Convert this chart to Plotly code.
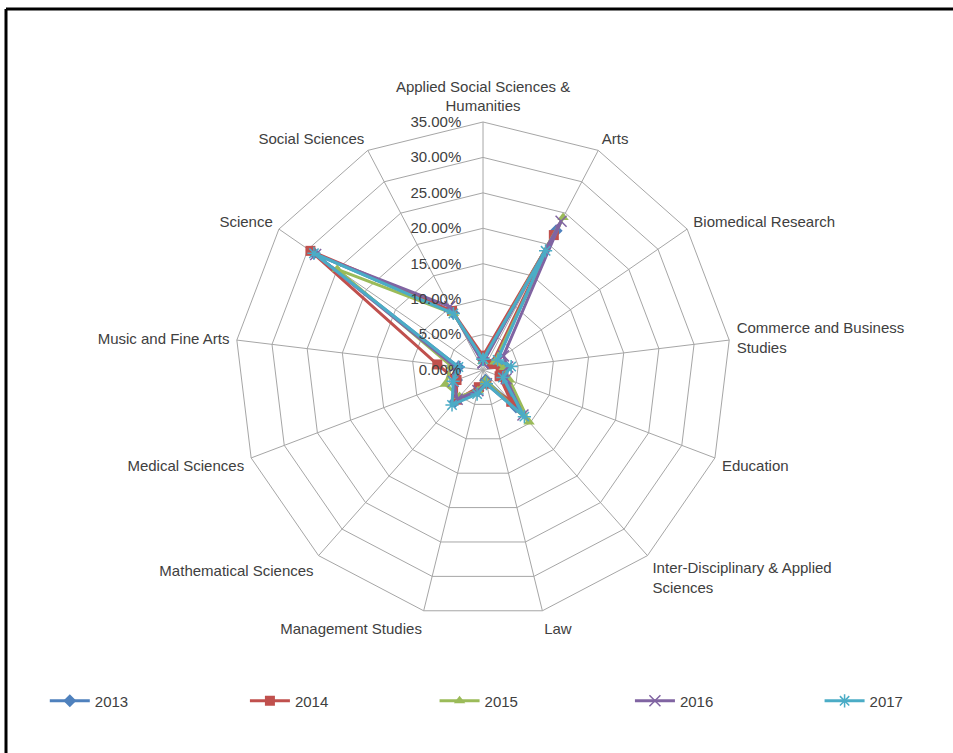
import plotly.graph_objects as go

categories = [
    "Applied Social Sciences &<br>Humanities",
    "Arts",
    "Biomedical Research",
    "Commerce and Business<br>Studies",
    "Education",
    "Inter-Disciplinary & Applied<br>Sciences",
    "Law",
    "Management Studies",
    "Mathematical Sciences",
    "Medical Sciences",
    "Music and Fine Arts",
    "Science",
    "Social Sciences",
]

years = ["2013", "2014", "2015", "2016", "2017"]

v2013 = [0.015, 0.222, 0.020, 0.030, 0.030, 0.070, 0.015, 0.030, 0.060, 0.040, 0.035, 0.290, 0.091]
v2014 = [0.020, 0.215, 0.015, 0.025, 0.025, 0.060, 0.020, 0.025, 0.056, 0.040, 0.065, 0.296, 0.094]
v2015 = [0.012, 0.243, 0.020, 0.030, 0.040, 0.098, 0.015, 0.030, 0.050, 0.057, 0.045, 0.250, 0.090]
v2016 = [0.010, 0.237, 0.035, 0.035, 0.035, 0.085, 0.020, 0.030, 0.055, 0.045, 0.040, 0.287, 0.101]
v2017 = [0.015, 0.190, 0.025, 0.040, 0.030, 0.088, 0.020, 0.035, 0.066, 0.045, 0.035, 0.290, 0.090]

series = [v2013, v2014, v2015, v2016, v2017]
colors = ["#4F81BD", "#C0504D", "#9BBB59", "#8064A2", "#4BACC6"]
symbols = ["diamond", "square", "triangle-up", "x-thin", "asterisk"]

radial_ticks = [0, 0.05, 0.10, 0.15, 0.20, 0.25, 0.30, 0.35]

FONT = "Liberation Sans, Arial, sans-serif"
TXT = "#404040"

legend_names = ["legend", "legend2", "legend3", "legend4", "legend5"]
legend_x = [0.047, 0.257, 0.456, 0.661, 0.860]

fig = go.Figure()
for name, vals, col, sym, lg in zip(years, series, colors, symbols, legend_names):
    thin = sym in ("x-thin", "asterisk")
    fig.add_trace(go.Scatterpolar(
        r=vals + vals[:1],
        theta=categories + categories[:1],
        mode="lines+markers",
        name=name,
        legend=lg,
        line=dict(color=col, width=3),
        marker=dict(symbol=sym, size=11 if thin else 10, color=col,
                    line=dict(color=col, width=1.5 if thin else 0)),
    ))

legend_layout = {}
for lg, lx in zip(legend_names, legend_x):
    legend_layout[lg] = dict(
        orientation="h",
        x=lx, y=0.069,
        xanchor="left", yanchor="middle",
        font=dict(family=FONT, size=15, color=TXT),
        itemwidth=40,
        bgcolor="rgba(0,0,0,0)",
    )

fig.update_layout(
    width=953, height=753,
    margin=dict(l=0, r=0, t=0, b=0),
    paper_bgcolor="white",
    plot_bgcolor="white",
    showlegend=True,
    font=dict(family=FONT, size=15, color=TXT),
    polar=dict(
        domain=dict(x=[0.2466, 0.7671], y=[0.1793, 0.8380]),
        bgcolor="white",
        gridshape="linear",
        radialaxis=dict(
            range=[0, 0.35],
            tickvals=radial_ticks,
            tickformat=".2%",
            angle=90,
            tickangle=90,
            side="counterclockwise",
            showline=False,
            ticks="outside",
            ticklen=16,
            tickcolor="rgba(0,0,0,0)",
            gridcolor="#A6A6A6",
            gridwidth=1,
            tickfont=dict(family=FONT, size=15, color=TXT),
        ),
        angularaxis=dict(
            direction="clockwise",
            rotation=90,
            showline=True,
            linecolor="#A6A6A6",
            linewidth=1,
            gridcolor="#A6A6A6",
            gridwidth=1,
            ticks="outside",
            ticklen=4,
            tickcolor="rgba(0,0,0,0)",
            tickfont=dict(family=FONT, size=15, color=TXT),
        ),
    ),
    shapes=[
        dict(type="line", xref="paper", yref="paper", x0=0.0063, x1=1.0, y0=0.988, y1=0.988,
             line=dict(color="black", width=3)),
        dict(type="line", xref="paper", yref="paper", x0=0.0063, x1=0.0063, y0=-0.01, y1=0.988,
             line=dict(color="black", width=3)),
    ],
    **legend_layout,
)

fig.write_html("out.html", config={"displayModeBar": False},
               post_script="document.body.style.margin='0';")
